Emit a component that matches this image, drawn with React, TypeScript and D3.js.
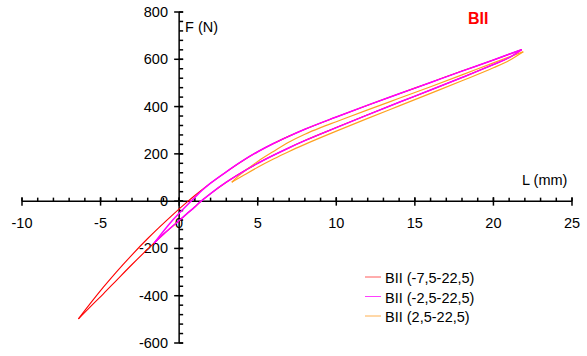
import React from "react";
import * as d3 from "d3";

type P = [number, number];

// Tick values
const xMajor = [-10, -5, 0, 5, 10, 15, 20, 25];
const yMajor = [-600, -400, -200, 0, 200, 400, 600, 800];

// Series names and colours
const seriesNames = ["BII (-7,5-22,5)", "BII (-2,5-22,5)", "BII (2,5-22,5)"];
const seriesColors = ["#ff0000", "#ff00ff", "#ffa020"];
const legendColors = ["#ff5a5a", "#ff40ff", "#ffb050"];

// Red loop (-7,5-22,5)
const redUpper: P[] = [
  [-6.41, -498], [-5.5, -420], [-4.82, -364], [-4, -300], [-3, -227], [-2, -158],
  [-1.32, -114], [-0.5, -63], [0.57, 0], [1, 24], [2, 76], [3, 124], [4, 169],
  [5, 209], [6, 244], [7, 275], [8, 304], [10, 356], [12, 406], [14, 454],
  [16, 502], [18, 550], [20, 597], [21.8, 641],
];
const redLower: P[] = [
  [-6.41, -498], [-5.5, -437], [-4.82, -392], [-4, -336], [-3, -268], [-2, -203],
  [-1.59, -177], [-1, -140], [0, -82], [0.5, -53], [1, -24], [1.4, 0], [2, 32],
  [3, 80], [4, 122], [5, 160], [6, 194], [7, 226], [8, 256], [10, 311], [12, 365],
  [14, 418], [16, 470], [18, 523], [19, 550], [20, 578], [21, 607], [21.8, 641],
];

// Magenta loop (-2,5-22,5)
const magUpper: P[] = [
  [-1.59, -177], [-1, -127], [-0.5, -87], [0, -51], [0.5, -17], [1, 16], [1.5, 48],
  [2, 76], [3, 124], [4, 169], [5, 209], [6, 244], [7, 275], [8, 304], [10, 356],
  [12, 406], [14, 454], [16, 502], [18, 550], [20, 597], [21.8, 641],
];
const magLower: P[] = [
  [-1.59, -177], [-1, -140], [0, -82], [0.5, -53], [1, -24], [1.4, 0], [2, 32],
  [3, 80], [4, 122], [5, 160], [6, 194], [7, 226], [8, 256], [10, 311], [12, 365],
  [14, 418], [16, 470], [18, 523], [19, 550], [20, 578], [21, 607], [21.8, 641],
];

// Orange loop (2,5-22,5)
const orUpper: P[] = [
  [3.35, 80], [3.8, 108], [4.3, 134], [5, 168], [6, 210], [7, 250], [8, 283],
  [9, 311], [10, 336], [12, 386], [14, 435], [16, 484], [18, 534], [20, 585],
  [21.9, 632],
];
const orLower: P[] = [
  [3.35, 80], [4, 105], [5, 143], [6, 178], [7, 210], [8, 240], [10, 296],
  [12, 350], [14, 403], [16, 456], [18, 509], [20, 564], [21, 595], [21.9, 632],
];

const loops: P[][][] = [
  [redUpper, redLower],
  [orUpper, orLower],
  [magUpper, magLower],
];
const loopColors = [seriesColors[0], seriesColors[2], seriesColors[1]];
const loopWidths = [1.1, 1.2, 1.5];

const FONT = "'Liberation Sans', Arial, sans-serif";

export default function App() {
  const W = 587, H = 356;
  const x = d3.scaleLinear().domain([-10, 25]).range([22, 572]);
  const y = d3.scaleLinear().domain([-600, 800]).range([343, 12]);
  const x0 = x(0), y0 = y(0);
  const xMinor = d3.range(-10, 25.001, 1);
  const yMinor = d3.range(-600, 800.001, 40);
  const line = d3
    .line<P>()
    .x((d) => x(d[0]))
    .y((d) => y(d[1]))
    .curve(d3.curveMonotoneX);

  return (
    <svg
      width={W}
      height={H}
      style={{ position: "absolute", left: 0, top: 0, background: "#fff" }}
      fontFamily={FONT}
    >
      <rect width={W} height={H} fill="#fff" />
      <g stroke="#000" strokeWidth={1.5}>
        <line x1={x(-10)} x2={x(25)} y1={y0} y2={y0} />
        {xMinor.map((v) => (
          <line key={"xm" + v} x1={x(v)} x2={x(v)} y1={y0 - 3.5} y2={y0} />
        ))}
        {xMajor.map((v) => (
          <line key={"xM" + v} x1={x(v)} x2={x(v)} y1={y0 - 4} y2={y0 + 4.5} />
        ))}
        <line x1={x0} x2={x0} y1={y(-600)} y2={y(800)} />
        {yMinor.map((v) => (
          <line key={"ym" + v} x1={x0} x2={x0 + 4} y1={y(v)} y2={y(v)} />
        ))}
        {yMajor.map((v) => (
          <line key={"yM" + v} x1={x0 - 5} x2={x0 + 4} y1={y(v)} y2={y(v)} />
        ))}
      </g>
      <g fontSize={14.5} fill="#000">
        {xMajor.map((v) => (
          <text key={"xl" + v} x={x(v)} y={228} textAnchor="middle">
            {v}
          </text>
        ))}
        {yMajor.map((v) => (
          <text key={"yl" + v} x={168} y={y(v) + 5} textAnchor="end">
            {v}
          </text>
        ))}
        <text x={185} y={32}>F (N)</text>
        <text x={522} y={185}>L (mm)</text>
      </g>
      <text x={468} y={24} fontSize={16} fontWeight="bold" fill="#ff0000">
        BII
      </text>
      {loops.map((loop, i) => (
        <g key={"loop" + i} fill="none" stroke={loopColors[i]} strokeWidth={loopWidths[i]}>
          {loop.map((branch, j) => (
            <path key={j} d={line(branch) || ""} />
          ))}
        </g>
      ))}
      <g fontSize={14.5}>
        {seriesNames.map((n, i) => (
          <g key={n}>
            <line
              x1={365}
              x2={381}
              y1={277 + i * 19.5}
              y2={277 + i * 19.5}
              stroke={legendColors[i]}
              strokeWidth={1}
            />
            <text x={385} y={283 + i * 19.5} fill="#000">
              {n}
            </text>
          </g>
        ))}
      </g>
    </svg>
  );
}
